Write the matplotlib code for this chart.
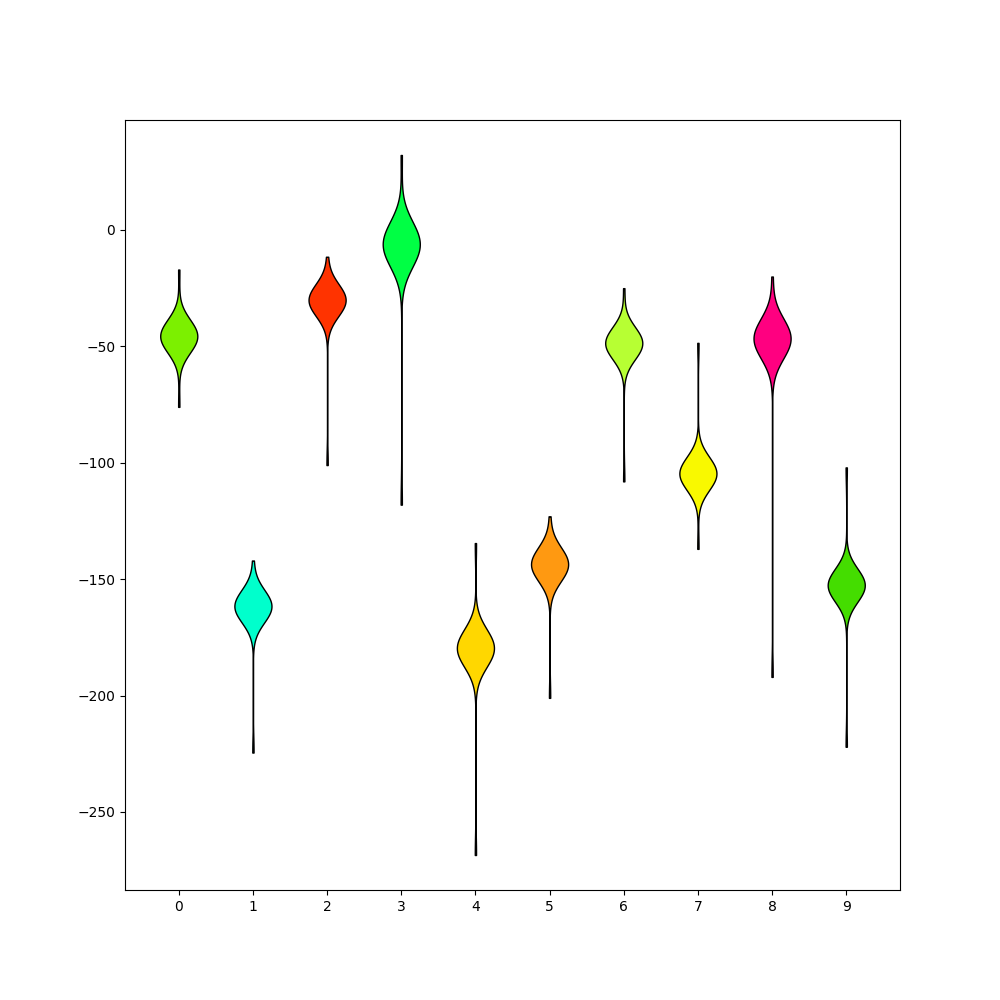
import numpy as np
import matplotlib
matplotlib.use("Agg")
import matplotlib.pyplot as plt

# ── Sample data: one list per violin (tight cluster + two stragglers) ────────

V0 = [-48.5, -48.1, -47.8, -47.5, -47.3, -47.1, -46.9, -46.7, -46.5, -46.3,
      -46.2, -46.0, -45.9, -45.7, -45.6, -45.5, -45.4, -45.3, -45.1, -45.0,
      -44.8, -44.7, -44.5, -44.3, -44.1, -43.9, -43.7, -43.5, -43.2, -42.9,
      -76.0, -17.0]
V1 = [-164.5, -164.1, -163.8, -163.5, -163.3, -163.1, -162.9, -162.7, -162.5, -162.3,
      -162.2, -162.0, -161.9, -161.7, -161.6, -161.5, -161.4, -161.3, -161.1, -161.0,
      -160.8, -160.7, -160.5, -160.3, -160.1, -159.9, -159.7, -159.5, -159.2, -158.9,
      -224.5, -142.0]
V2 = [-33.0, -32.6, -32.3, -32.0, -31.8, -31.6, -31.4, -31.2, -31.0, -30.8,
      -30.7, -30.5, -30.4, -30.2, -30.1, -30.0, -29.9, -29.8, -29.6, -29.5,
      -29.3, -29.2, -29.0, -28.8, -28.6, -28.4, -28.2, -28.0, -27.7, -27.4,
      -101.0, -11.5]
V3 = [-9.0, -8.6, -8.3, -8.0, -7.8, -7.6, -7.4, -7.2, -7.0, -6.8,
      -6.7, -6.5, -6.4, -6.2, -6.1, -6.0, -5.9, -5.8, -5.6, -5.5,
      -5.3, -5.2, -5.0, -4.8, -4.6, -4.4, -4.2, -4.0, -3.7, -3.4,
      -118.0, 32.2]
V4 = [-182.5, -182.1, -181.8, -181.5, -181.3, -181.1, -180.9, -180.7, -180.5, -180.3,
      -180.2, -180.0, -179.9, -179.7, -179.6, -179.5, -179.4, -179.3, -179.1, -179.0,
      -178.8, -178.7, -178.5, -178.3, -178.1, -177.9, -177.7, -177.5, -177.2, -176.9,
      -268.5, -134.5]
V5 = [-146.5, -146.1, -145.8, -145.5, -145.3, -145.1, -144.9, -144.7, -144.5, -144.3,
      -144.2, -144.0, -143.9, -143.7, -143.6, -143.5, -143.4, -143.3, -143.1, -143.0,
      -142.8, -142.7, -142.5, -142.3, -142.1, -141.9, -141.7, -141.5, -141.2, -140.9,
      -201.0, -123.0]
V6 = [-51.5, -51.1, -50.8, -50.5, -50.3, -50.1, -49.9, -49.7, -49.5, -49.3,
      -49.2, -49.0, -48.9, -48.7, -48.6, -48.5, -48.4, -48.3, -48.1, -48.0,
      -47.8, -47.7, -47.5, -47.3, -47.1, -46.9, -46.7, -46.5, -46.2, -45.9,
      -108.0, -25.0]
V7 = [-107.5, -107.1, -106.8, -106.5, -106.3, -106.1, -105.9, -105.7, -105.5, -105.3,
      -105.2, -105.0, -104.9, -104.7, -104.6, -104.5, -104.4, -104.3, -104.1, -104.0,
      -103.8, -103.7, -103.5, -103.3, -103.1, -102.9, -102.7, -102.5, -102.2, -101.9,
      -137.0, -48.5]
V8 = [-49.5, -49.1, -48.8, -48.5, -48.3, -48.1, -47.9, -47.7, -47.5, -47.3,
      -47.2, -47.0, -46.9, -46.7, -46.6, -46.5, -46.4, -46.3, -46.1, -46.0,
      -45.8, -45.7, -45.5, -45.3, -45.1, -44.9, -44.7, -44.5, -44.2, -43.9,
      -192.0, -20.0]
V9 = [-155.5, -155.1, -154.8, -154.5, -154.3, -154.1, -153.9, -153.7, -153.5, -153.3,
      -153.2, -153.0, -152.9, -152.7, -152.6, -152.5, -152.4, -152.3, -152.1, -152.0,
      -151.8, -151.7, -151.5, -151.3, -151.1, -150.9, -150.7, -150.5, -150.2, -149.9,
      -222.0, -102.0]

DATA = [V0, V1, V2, V3, V4, V5, V6, V7, V8, V9]
POSITIONS = list(range(10))

# KDE bandwidth (data units) per violin
BANDWIDTHS = [7.0, 6.9, 6.8, 9.6, 8.0, 7.2, 6.8, 7.0, 8.5, 7.0]

COLORS = ["#7cf000", "#00ffcc", "#ff3300", "#00ff44", "#ffd700",
          "#ff9911", "#b7ff33", "#f9f900", "#ff0080", "#44dd00"]

# ── Plot ─────────────────────────────────────────────────────────────────────

fig, ax = plt.subplots(figsize=(10, 10), dpi=100)

for pos, vals, bw, col in zip(POSITIONS, DATA, BANDWIDTHS, COLORS):
    parts = ax.violinplot([vals], positions=[pos], showextrema=False,
                          bw_method=bw / np.std(vals, ddof=1), points=400)
    for body in parts["bodies"]:
        body.set_facecolor(col)
        body.set_edgecolor("black")
        body.set_linewidth(1.0)
        body.set_alpha(1.0)

ax.set_xticks(POSITIONS)

fig.savefig("out.png", dpi=100)
